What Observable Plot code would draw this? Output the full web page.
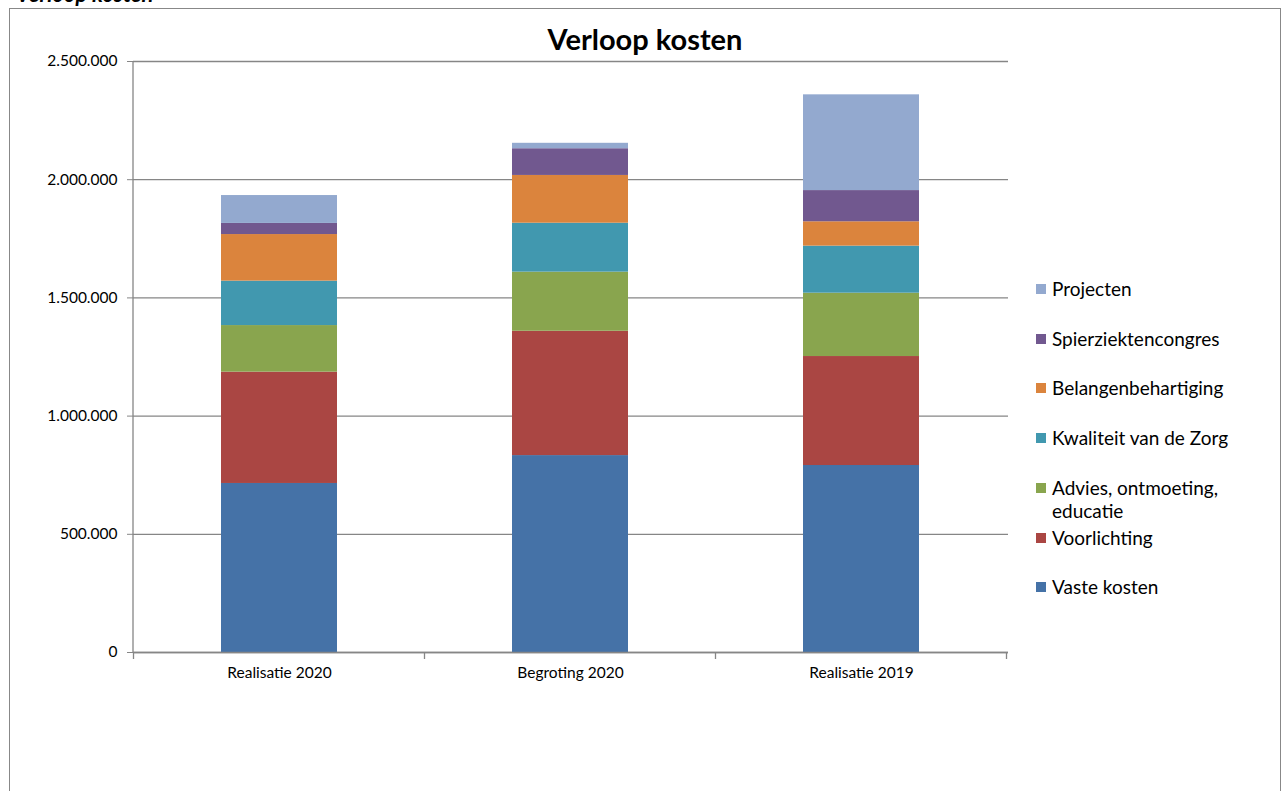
<!DOCTYPE html>
<html>
<head>
<meta charset="utf-8">
<script src="https://cdn.jsdelivr.net/npm/d3@7"></script>
<script src="https://cdn.jsdelivr.net/npm/@observablehq/plot@0.6"></script>
<style>
  html, body { margin: 0; padding: 0; background: #fff; overflow: hidden; }
  body { width: 1284px; height: 791px; position: relative; font-family: Lato, "Open Sans", sans-serif; }
  #frame { position: absolute; left: 9px; top: 8px; width: 1272px; height: 820px; border: 1px solid #888; box-sizing: border-box; }
  #cut { position: absolute; left: 16px; top: -20px; font: italic bold 22px Lato, sans-serif; color: #000; }
  #chart { position: absolute; left: 0; top: 0; }
  #title { position: absolute; left: 9px; width: 1272px; top: 21px; text-align: center; font: bold 29px Lato, sans-serif; color: #000; }
  .leg { position: absolute; left: 1036px; display: flex; align-items: flex-start; font: 19px Lato, sans-serif; color: #000; line-height: 23px; }
  .leg .sw { width: 10px; height: 10px; margin-top: 7px; margin-right: 6px; flex: none; }
  .leg .tx { max-width: 200px; }
</style>
</head>
<body>
<div id="cut">Verloop kosten</div>
<div id="frame"></div>
<div id="chart"></div>
<div id="title">Verloop kosten</div>
<div id="legend"></div>
<script>
const categories = ["Realisatie 2020", "Begroting 2020", "Realisatie 2019"];
const seriesNames = ["Vaste kosten", "Voorlichting", "Advies, ontmoeting, educatie", "Kwaliteit van de Zorg", "Belangenbehartiging", "Spierziektencongres", "Projecten"];
const seriesColors = ["#4572A7", "#AA4643", "#89A54E", "#4198AF", "#DB843D", "#71588F", "#93A9CF"];
const vasteKosten    = [715000, 833000, 791000];
const voorlichting   = [471000, 526000, 461000];
const advies         = [197000, 250000, 268000];
const kwaliteit      = [188000, 207000, 199000];
const belangen       = [197000, 202000, 103000];
const congres        = [47000, 113000, 132000];
const projecten      = [118000, 23000, 405000];
const yTicks = [0, 500000, 1000000, 1500000, 2000000, 2500000];

const seriesValues = [vasteKosten, voorlichting, advies, kwaliteit, belangen, congres, projecten];
const data = [];
seriesNames.forEach((s, si) => categories.forEach((c, ci) => data.push({category: c, series: s, value: seriesValues[si][ci]})));

const nl = d3.formatLocale({decimal: ",", thousands: ".", grouping: [3], currency: ["€", ""]});
const fmt = nl.format(",.0f");
const gray = "#868686";

function boundaryTicks(index, scales, values, dims) {
  const {x, y} = scales;
  const g = d3.create("svg:g").attr("stroke", gray).attr("stroke-width", 1.3);
  const step = x.step(), bw = x.bandwidth();
  const xs = categories.map(c => x(c) - (step - bw) / 2);
  xs.push(x(categories[categories.length - 1]) + bw + (step - bw) / 2);
  const y0 = y(0);
  g.selectAll("line.t").data(xs).join("line").attr("class", "t")
    .attr("x1", d => d).attr("x2", d => d).attr("y1", y0).attr("y2", y0 + 7);
  g.append("line").attr("x1", dims.marginLeft).attr("x2", dims.marginLeft)
    .attr("y1", y(yTicks[yTicks.length - 1])).attr("y2", y0);
  return g.node();
}

const chart = Plot.plot({
  width: 1284,
  height: 791,
  marginLeft: 133,
  marginRight: 276,
  marginTop: 61,
  marginBottom: 139,
  style: {fontFamily: "Lato, sans-serif", fontSize: "15px", color: "#000", background: "transparent"},
  x: {domain: categories, paddingInner: 0.6, paddingOuter: 0.3, label: null},
  y: {domain: [0, 2500000], label: null},
  color: {domain: seriesNames, range: seriesColors},
  marks: [
    Plot.gridY(yTicks, {stroke: gray, strokeOpacity: 1, strokeWidth: 1.3}),
    Plot.barY(data, {x: "category", y: "value", fill: "series", order: seriesNames}),
    Plot.ruleY([0], {stroke: gray, strokeWidth: 1.3}),
    boundaryTicks,
    Plot.axisY(yTicks, {tickSize: 6, tickPadding: 10, tickFormat: fmt, stroke: gray, strokeOpacity: 1, fontSize: 15.5, label: null}),
    Plot.axisX({tickSize: 0, tickPadding: 14, fontSize: 15.5, label: null})
  ]
});
document.getElementById("chart").appendChild(chart);

const legend = document.getElementById("legend");
const legendOrder = seriesNames.map((s, i) => i).reverse();
legendOrder.forEach((si, row) => {
  const item = document.createElement("div");
  item.className = "leg";
  item.style.top = (277 + row * 49.7) + "px";
  const sw = document.createElement("span");
  sw.className = "sw";
  sw.style.background = seriesColors[si];
  const tx = document.createElement("span");
  tx.className = "tx";
  tx.textContent = seriesNames[si];
  item.appendChild(sw); item.appendChild(tx);
  legend.appendChild(item);
});
</script>
</body>
</html>
